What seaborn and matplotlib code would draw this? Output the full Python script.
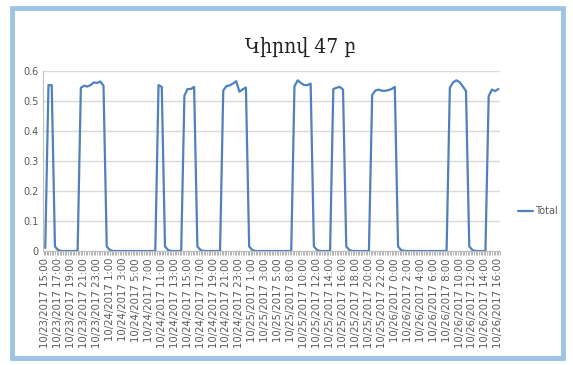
import numpy as np
import matplotlib
matplotlib.use('Agg')
import matplotlib.pyplot as plt
import matplotlib.ticker as ticker
from matplotlib.patches import Rectangle
import seaborn as sns

# ======================== 数据 ========================
title = 'Կիրով 47 բ'
series_name = 'Total'

# half-hourly readings, 10/23/2017 15:00 -> 10/26/2017 16:00
total = [
    0.010, 0.553, 0.553, 0.015, 0.003, 0, 0, 0, 0, 0,
    0, 0.544, 0.551, 0.548, 0.553, 0.562, 0.560, 0.565, 0.551, 0.015,
    0.003, 0, 0, 0, 0, 0, 0, 0, 0, 0,
    0, 0, 0, 0, 0, 0.553, 0.547, 0.015, 0.003, 0,
    0, 0, 0, 0.518, 0.540, 0.540, 0.547, 0.015, 0.003, 0,
    0, 0, 0, 0, 0, 0.535, 0.550, 0.552, 0.558, 0.566,
    0.531, 0.539, 0.545, 0.015, 0.003, 0, 0, 0, 0, 0,
    0, 0, 0, 0, 0, 0, 0, 0.549, 0.569, 0.560,
    0.553, 0.553, 0.558, 0.015, 0.003, 0, 0, 0, 0, 0.540,
    0.544, 0.547, 0.538, 0.015, 0.003, 0, 0, 0, 0, 0,
    0, 0.520, 0.535, 0.538, 0.534, 0.534, 0.536, 0.540, 0.547, 0.015,
    0.003, 0, 0, 0, 0, 0, 0, 0, 0, 0,
    0, 0, 0, 0, 0, 0.544, 0.562, 0.569, 0.563, 0.549,
    0.533, 0.015, 0.003, 0, 0, 0, 0, 0.516, 0.538, 0.533,
    0.540,
]

tick_labels = [
    '10/23/2017 15:00', '10/23/2017 17:00', '10/23/2017 19:00', '10/23/2017 21:00',
    '10/23/2017 23:00', '10/24/2017 1:00', '10/24/2017 3:00', '10/24/2017 5:00',
    '10/24/2017 7:00', '10/24/2017 11:00', '10/24/2017 13:00', '10/24/2017 15:00',
    '10/24/2017 17:00', '10/24/2017 19:00', '10/24/2017 21:00', '10/24/2017 23:00',
    '10/25/2017 1:00', '10/25/2017 3:00', '10/25/2017 5:00', '10/25/2017 8:00',
    '10/25/2017 10:00', '10/25/2017 12:00', '10/25/2017 14:00', '10/25/2017 16:00',
    '10/25/2017 18:00', '10/25/2017 20:00', '10/25/2017 22:00', '10/26/2017 0:00',
    '10/26/2017 2:00', '10/26/2017 4:00', '10/26/2017 6:00', '10/26/2017 8:00',
    '10/26/2017 10:00', '10/26/2017 12:00', '10/26/2017 14:00', '10/26/2017 16:00',
]
y_ticks = [0, 0.1, 0.2, 0.3, 0.4, 0.5, 0.6]

# ======================== 样式 ========================
sns.set_theme(style='white')
plt.rcParams['font.family'] = ['DejaVu Sans']

line_color = '#4f81bd'
grid_color = '#d9d9d9'
text_color = '#595959'
frame_color = '#9dc3e6'

fig = plt.figure(figsize=(5.73, 3.65), dpi=100)
ax = fig.add_axes([0.075, 0.3123, 0.7976, 0.4932])

idx = np.arange(len(total))
sns.lineplot(x=idx, y=total, ax=ax, color=line_color, linewidth=1.6, label=series_name)

ax.set_xlim(-0.7, len(total) - 0.5)
ax.set_ylim(0, 0.6)
ax.set_yticks(y_ticks)
ax.set_yticklabels(['0', '0.1', '0.2', '0.3', '0.4', '0.5', '0.6'], fontsize=7, color=text_color)
ax.yaxis.grid(True, color=grid_color, linewidth=1)
ax.set_axisbelow(True)

ax.set_xticks(np.arange(0, len(total), 4))
ax.set_xticklabels(tick_labels, rotation=90, fontsize=7.3, color=text_color)
ax.xaxis.set_minor_locator(ticker.MultipleLocator(0.5))
ax.tick_params(axis='x', which='both', direction='out', length=3, width=0.6,
               color='#a6a6a6', bottom=True, pad=2)
ax.tick_params(axis='y', length=0, pad=3)

for side in ['top', 'right']:
    ax.spines[side].set_visible(False)
ax.spines['left'].set_color('#bfbfbf')
ax.spines['bottom'].set_color('#bfbfbf')
ax.spines['left'].set_linewidth(0.8)
ax.spines['bottom'].set_linewidth(0.8)

ax.legend(loc='center left', bbox_to_anchor=(1.028, 0.222), frameon=False,
          fontsize=7, handlelength=1.6, handletextpad=0.15, borderpad=0,
          labelcolor=text_color)

fig.text(0.524, 0.872, title, ha='center', va='center', fontsize=15,
         family='DejaVu Serif', fontstretch='condensed', color='#222222')

# 外框
fig.patches.append(Rectangle((12 / 573, 7 / 365), 551 / 573, 350 / 365,
                             transform=fig.transFigure, fill=False,
                             edgecolor=frame_color, linewidth=3.5))

fig.savefig('out.png', dpi=100)
